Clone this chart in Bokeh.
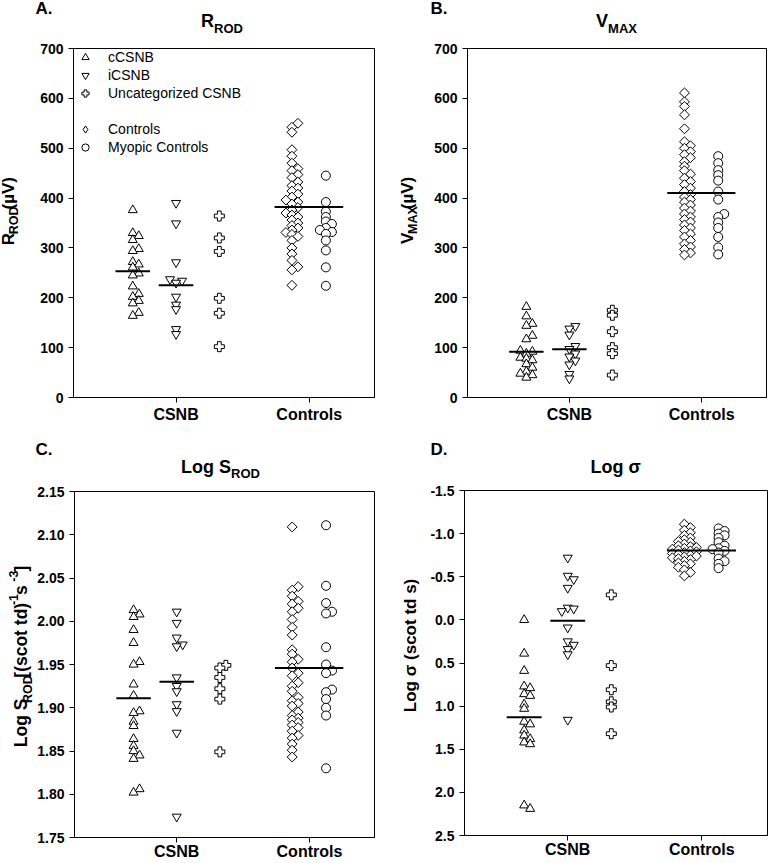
import math
from bokeh.plotting import figure
from bokeh.models import Range1d, FixedTicker, NumeralTickFormatter, Label, Legend, LegendItem
from bokeh.layouts import row, column
from bokeh.embed import file_html
from bokeh.resources import INLINE

FONT = "Liberation Sans"

# ---------------- data ----------------
categories = ["CSNB", "Controls"]
series_names = ["cCSNB", "iCSNB", "Uncategorized CSNB", "Controls", "Myopic Controls"]

# A. R_ROD (uV)
rrod_ccsnb = [376, 330, 324, 316, 298, 294, 272, 267, 261, 249, 245, 223, 208, 202, 194, 189, 170, 164]
rrod_icsnb = [390, 349, 271, 237, 234, 230, 202, 186, 177, 137, 127]
rrod_uncat = [364, 320, 293, 199, 169, 102]
rrod_controls = [550, 542, 532, 497, 484, 470, 459, 455, 447, 441, 432, 425, 420, 414, 408, 402, 396,
                 392, 388, 381, 376, 370, 366, 362, 356, 350, 345, 340, 336, 331, 327, 323, 315, 300,
                 288, 275, 262, 256, 225]
rrod_myopic = [445, 392, 373, 362, 353, 348, 340, 336, 332, 328, 315, 295, 261, 224]
rrod_lines = [253, 225, 382]          # cCSNB, iCSNB, all controls
rrod_ticks = [0, 100, 200, 300, 400, 500, 600, 700]

# B. V_MAX (uV)
vmax_ccsnb = [182, 163, 148, 144, 124, 117, 94, 92, 88, 80, 78, 75, 67, 60, 52, 48, 45, 40]
vmax_icsnb = [143, 138, 126, 103, 97, 88, 82, 74, 66, 47, 38]
vmax_uncat = [175, 165, 132, 100, 88, 45]
vmax_controls = [611, 593, 584, 567, 539, 513, 505, 500, 493, 487, 481, 473, 464, 455, 448, 440, 433,
                 427, 420, 413, 407, 402, 397, 392, 386, 380, 374, 368, 362, 357, 352, 346, 340, 335,
                 328, 322, 315, 308, 302, 297, 290, 286]
vmax_myopic = [484, 470, 456, 446, 435, 413, 397, 368, 362, 351, 340, 322, 301, 287]
vmax_lines = [92, 97, 410]
vmax_ticks = [0, 100, 200, 300, 400, 500, 600, 700]

# C. Log S_ROD
srod_ccsnb = [2.013, 2.008, 2.005, 1.990, 1.975, 1.953, 1.950, 1.927, 1.914, 1.896, 1.894, 1.884,
              1.879, 1.864, 1.856, 1.850, 1.845, 1.841, 1.806, 1.802]
srod_icsnb = [2.011, 1.998, 1.981, 1.973, 1.971, 1.935, 1.925, 1.919, 1.904, 1.896, 1.871, 1.774]
srod_uncat = [1.949, 1.946, 1.935, 1.922, 1.910, 1.849]
srod_controls = [2.109, 2.040, 2.036, 2.029, 2.023, 2.020, 2.015, 2.011, 2.002, 1.993, 1.984, 1.967,
                 1.962, 1.956, 1.953, 1.946, 1.940, 1.937, 1.929, 1.925, 1.919, 1.912, 1.908, 1.905,
                 1.902, 1.895, 1.891, 1.888, 1.886, 1.883, 1.880, 1.877, 1.873, 1.868, 1.865, 1.858,
                 1.851, 1.843]
srod_myopic = [2.111, 2.041, 2.021, 2.011, 2.009, 1.970, 1.950, 1.943, 1.940, 1.921, 1.918, 1.910,
               1.900, 1.891, 1.830]
srod_lines = [1.911, 1.930, 1.946]
srod_ticks = [1.75, 1.80, 1.85, 1.90, 1.95, 2.00, 2.05, 2.10, 2.15]

# D. Log sigma
sigma_ccsnb = [0.0, 0.39, 0.59, 0.77, 0.79, 0.86, 0.88, 0.98, 1.03, 1.18, 1.21, 1.28, 1.34, 1.38,
               1.42, 1.44, 2.15, 2.19]
sigma_icsnb = [-0.72, -0.51, -0.47, -0.37, -0.14, -0.13, -0.10, 0.09, 0.25, 0.29, 0.34, 0.40, 1.16]
sigma_uncat = [-0.29, 0.53, 0.81, 0.95, 1.01, 1.32]
sigma_controls = [-1.11, -1.07, -1.04, -1.01, -0.98, -0.95, -0.93, -0.91, -0.90, -0.88, -0.86, -0.85,
                  -0.84, -0.83, -0.82, -0.81, -0.80, -0.79, -0.78, -0.77, -0.76, -0.75, -0.74, -0.73,
                  -0.72, -0.71, -0.70, -0.68, -0.66, -0.65, -0.63, -0.61, -0.58, -0.55, -0.51]
sigma_myopic = [-1.06, -1.03, -1.00, -0.98, -0.95, -0.90, -0.86, -0.83, -0.82, -0.80, -0.78, -0.71,
                -0.68, -0.65, -0.60]
sigma_lines = [1.13, 0.01, -0.805]
sigma_ticks = [-1.5, -1.0, -0.5, 0.0, 0.5, 1.0, 1.5, 2.0, 2.5]

# ---------------- layout / style ----------------
X_RANGE = (0.23, 2.49)
COL_X = [0.675, 1.0, 1.325, 1.87, 2.125]          # column position of each series
MARKERS = [("triangle", 9, 0.0), ("inverted_triangle", 9, 0.0), ("plus", 10, 0.0),
           ("square", 7, math.pi / 4), ("circle", 9, 0.0)]
LINE_HALF = 0.13
BASE_CORR = 0.4      # em; rendered alphabetic baseline sits this far below the anchor

# advance widths (1/1000 em) of Arial/Liberation Sans Bold for label layout
W = {' ': 278, '(': 333, ')': 333, '[': 333, ']': 333, '-': 333, '1': 556, '3': 556, 'A': 722,
     'B': 722, 'C': 722, 'D': 722, 'L': 611, 'M': 833, 'O': 778, 'R': 722, 'S': 667, 'V': 667,
     'X': 667, 'c': 556, 'd': 611, 'g': 611, 'o': 611, 's': 556, 't': 333, 'µ': 611, 'σ': 617}


def tw(s, size):
    return sum(W.get(c, 600) for c in s) / 1000.0 * size


def spread_offsets(values, ypx, xpx):
    """Small horizontal offsets so that coincident points stay visible."""
    order = sorted(range(len(values)), key=lambda i: values[i])
    placed = []
    out = [0.0] * len(values)
    for i in order:
        y = values[i] * ypx
        chosen = 0
        for cand in (0, 6, -6, 12, -12, 18, -18):
            if all(not (abs(y - py) < 4 and abs(cand - pc) < 6) for py, pc in placed):
                chosen = cand
                break
        out[i] = chosen / xpx
        placed.append((y, chosen))
    return out


def main_panel(w, h, bl, br, bt, bb, yr, ticks, fmt, series, lines, x_standoff, legend=False):
    p = figure(width=w, height=h, x_range=Range1d(*X_RANGE), y_range=Range1d(*yr),
               output_backend="svg", toolbar_location=None, tools="", title=None,
               min_border_left=bl, min_border_right=br, min_border_top=bt, min_border_bottom=bb)
    p.background_fill_color = "white"
    p.border_fill_color = "white"
    p.outline_line_color = "black"
    p.outline_line_alpha = 1.0
    p.outline_line_width = 1
    p.grid.visible = False

    xpx = (w - bl - br) / (X_RANGE[1] - X_RANGE[0])
    ypx = abs((h - bt - bb) / (yr[1] - yr[0]))

    p.xaxis.ticker = FixedTicker(ticks=[1, 2])
    p.xaxis.major_label_overrides = {1: categories[0], 2: categories[1]}
    p.yaxis.ticker = FixedTicker(ticks=ticks)
    p.yaxis.formatter = NumeralTickFormatter(format=fmt)
    for ax in (p.xaxis[0], p.yaxis[0]):
        ax.axis_line_color = "black"
        ax.axis_line_width = 1
        ax.major_tick_line_color = "black"
        ax.major_tick_out = 5
        ax.major_tick_in = 0
        ax.minor_tick_out = 0
        ax.minor_tick_in = 0
        ax.major_label_text_font = FONT
        ax.major_label_text_font_style = "bold"
        ax.major_label_text_color = "black"
    p.xaxis.major_label_text_font_size = "16px"
    p.xaxis.major_label_standoff = x_standoff
    p.yaxis.major_label_text_font_size = "14px"
    p.yaxis.major_label_standoff = 5

    rends = []
    for k, vals in enumerate(series):
        mk, sz, ang = MARKERS[k]
        offs = spread_offsets(vals, ypx, xpx)
        xs = [COL_X[k] + o for o in offs]
        r = p.scatter(x=xs, y=vals, marker=mk, size=sz, angle=ang, fill_color="white",
                      line_color="black", line_width=1)
        rends.append(r)

    # summary lines: cCSNB, iCSNB, all controls
    x0 = [COL_X[0] - LINE_HALF, COL_X[1] - LINE_HALF, COL_X[3] - LINE_HALF]
    x1 = [COL_X[0] + LINE_HALF, COL_X[1] + LINE_HALF, COL_X[4] + LINE_HALF]
    p.segment(x0=x0, x1=x1, y0=lines, y1=lines, line_color="black", line_width=2)

    if legend:
        nan = float("nan")
        blank = p.scatter(x=[nan], y=[nan], marker="circle", fill_alpha=0, line_alpha=0)
        # legend key only (no visible point): legends draw markers unrotated
        diamond_key = p.scatter(x=[nan], y=[nan], marker="diamond", fill_color="white",
                                line_color="black", line_width=1)
        items = [LegendItem(label=series_names[0], renderers=[rends[0]]),
                 LegendItem(label=series_names[1], renderers=[rends[1]]),
                 LegendItem(label=series_names[2], renderers=[rends[2]]),
                 LegendItem(label=" ", renderers=[blank]),
                 LegendItem(label=series_names[3], renderers=[diamond_key]),
                 LegendItem(label=series_names[4], renderers=[rends[4]])]
        lg = Legend(items=items, location="top_left", margin=0, padding=1, spacing=0,
                    glyph_width=24, glyph_height=18, label_height=18, label_standoff=11,
                    border_line_color=None, background_fill_alpha=0,
                    label_text_font=FONT, label_text_font_size="14px",
                    label_text_font_style="normal", label_text_color="black")
        p.add_layout(lg)
    return p


def text_fig(w, h):
    f = figure(width=w, height=h, x_range=Range1d(0, w), y_range=Range1d(h, 0),
               output_backend="svg", toolbar_location=None, tools="", title=None,
               min_border=0, x_axis_location=None, y_axis_location=None)
    f.outline_line_color = None
    f.grid.visible = False
    f.background_fill_color = "white"
    f.border_fill_color = "white"
    return f


def put(f, org, px, py, text, size, rotated=False):
    """Place text so that its baseline is at page (px, py) (x-baseline when rotated)."""
    corr = BASE_CORR * size
    if rotated:
        x, y, ang = px - corr - org[0], py - org[1], math.pi / 2
    else:
        x, y, ang = px - org[0], py - corr - org[1], 0.0
    f.add_layout(Label(x=x, y=y, x_units="data", y_units="data", text=text,
                       text_font=FONT, text_font_size=f"{size}px", text_font_style="bold",
                       text_color="black", text_align="left", text_baseline="alphabetic",
                       angle=ang))


def title_strip(w, h, org, letter, letter_xy, pieces, cx, by, sub_shift):
    f = text_fig(w, h)
    put(f, org, letter_xy[0], letter_xy[1], letter, 17)
    TMAIN, TSMALL = 18, 13
    total = sum(tw(t, TMAIN if k == "main" else TSMALL) for t, k in pieces)
    cur = cx - total / 2
    for t, k in pieces:
        size = TMAIN if k == "main" else TSMALL
        put(f, org, cur, by + (sub_shift if k == "sub" else 0), t, size)
        cur += tw(t, size)
    return f


def ylabel_strip(w, h, org, pieces, bx, cy, main, small, sub_shift, sup_shift):
    f = text_fig(w, h)
    total = sum(tw(t, main if k == "main" else small) for t, k in pieces)
    cur = cy + total / 2
    for t, k in pieces:
        size = main if k == "main" else small
        x = bx + (sub_shift if k == "sub" else (sup_shift if k == "sup" else 0))
        put(f, org, x, cur, t, size, rotated=True)
        cur -= tw(t, size)
    return f


# ---- panel A (page x 0-384, y 0-430)
tA = title_strip(384, 38, (0, 0), "A.", (35, 15), [("R", "main"), ("ROD", "sub")], 221.5, 28, 5)
yA = ylabel_strip(30, 392, (0, 38), [("R", "main"), ("ROD", "sub"), (" (µV)", "main")],
                  15, 220, 17, 12.5, 3, -8)
mA = main_panel(354, 392, 43, 10, 10, 33, (0, 700), rrod_ticks, "0",
                [rrod_ccsnb, rrod_icsnb, rrod_uncat, rrod_controls, rrod_myopic], rrod_lines, 3,
                legend=True)

# ---- panel B (page x 384-768, y 0-430)
tB = title_strip(384, 38, (384, 0), "B.", (430, 15), [("V", "main"), ("MAX", "sub")], 616, 28, 5)
yB = ylabel_strip(38, 392, (384, 38), [("V", "main"), ("MAX", "sub"), ("(µV)", "main")],
                  414, 221.5, 17, 12.5, 3, -8)
mB = main_panel(346, 392, 45, 2, 10, 33, (0, 700), vmax_ticks, "0",
                [vmax_ccsnb, vmax_icsnb, vmax_uncat, vmax_controls, vmax_myopic], vmax_lines, 3)

# ---- panel C (page x 0-384, y 430-862)
tC = title_strip(384, 52, (0, 430), "C.", (35, 456), [("Log S", "main"), ("ROD", "sub")], 220, 474, 4)
yC = ylabel_strip(34, 380, (0, 482),
                  [("Log S", "main"), ("ROD", "sub"), (" [(scot td)", "main"), ("-1", "sup"),
                   (" s", "main"), ("-3", "sup"), ("]", "main")],
                  27, 663.5, 17.5, 12.5, 5, -9)
mC = main_panel(350, 380, 39, 10, 9, 25, (1.75, 2.15), srod_ticks, "0.00",
                [srod_ccsnb, srod_icsnb, srod_uncat, srod_controls, srod_myopic], srod_lines, 0)

# ---- panel D (page x 384-768, y 430-862)
tD = title_strip(384, 52, (384, 430), "D.", (430, 456), [("Log σ", "main")], 614.5, 474, 4)
yD = ylabel_strip(38, 380, (384, 482), [("Log σ (scot td s)", "main")],
                  417, 660, 17, 12.5, 3, -8)
mD = main_panel(346, 380, 42, 1, 8, 27, (2.5, -1.5), sigma_ticks, "0.0",
                [sigma_ccsnb, sigma_icsnb, sigma_uncat, sigma_controls, sigma_myopic], sigma_lines, 0)

blockA = column(tA, row(yA, mA))
blockB = column(tB, row(yB, mB))
blockC = column(tC, row(yC, mC))
blockD = column(tD, row(yD, mD))
layout = column(row(blockA, blockB), row(blockC, blockD))

with open("out.html", "w") as f:
    f.write(file_html(layout, INLINE))
